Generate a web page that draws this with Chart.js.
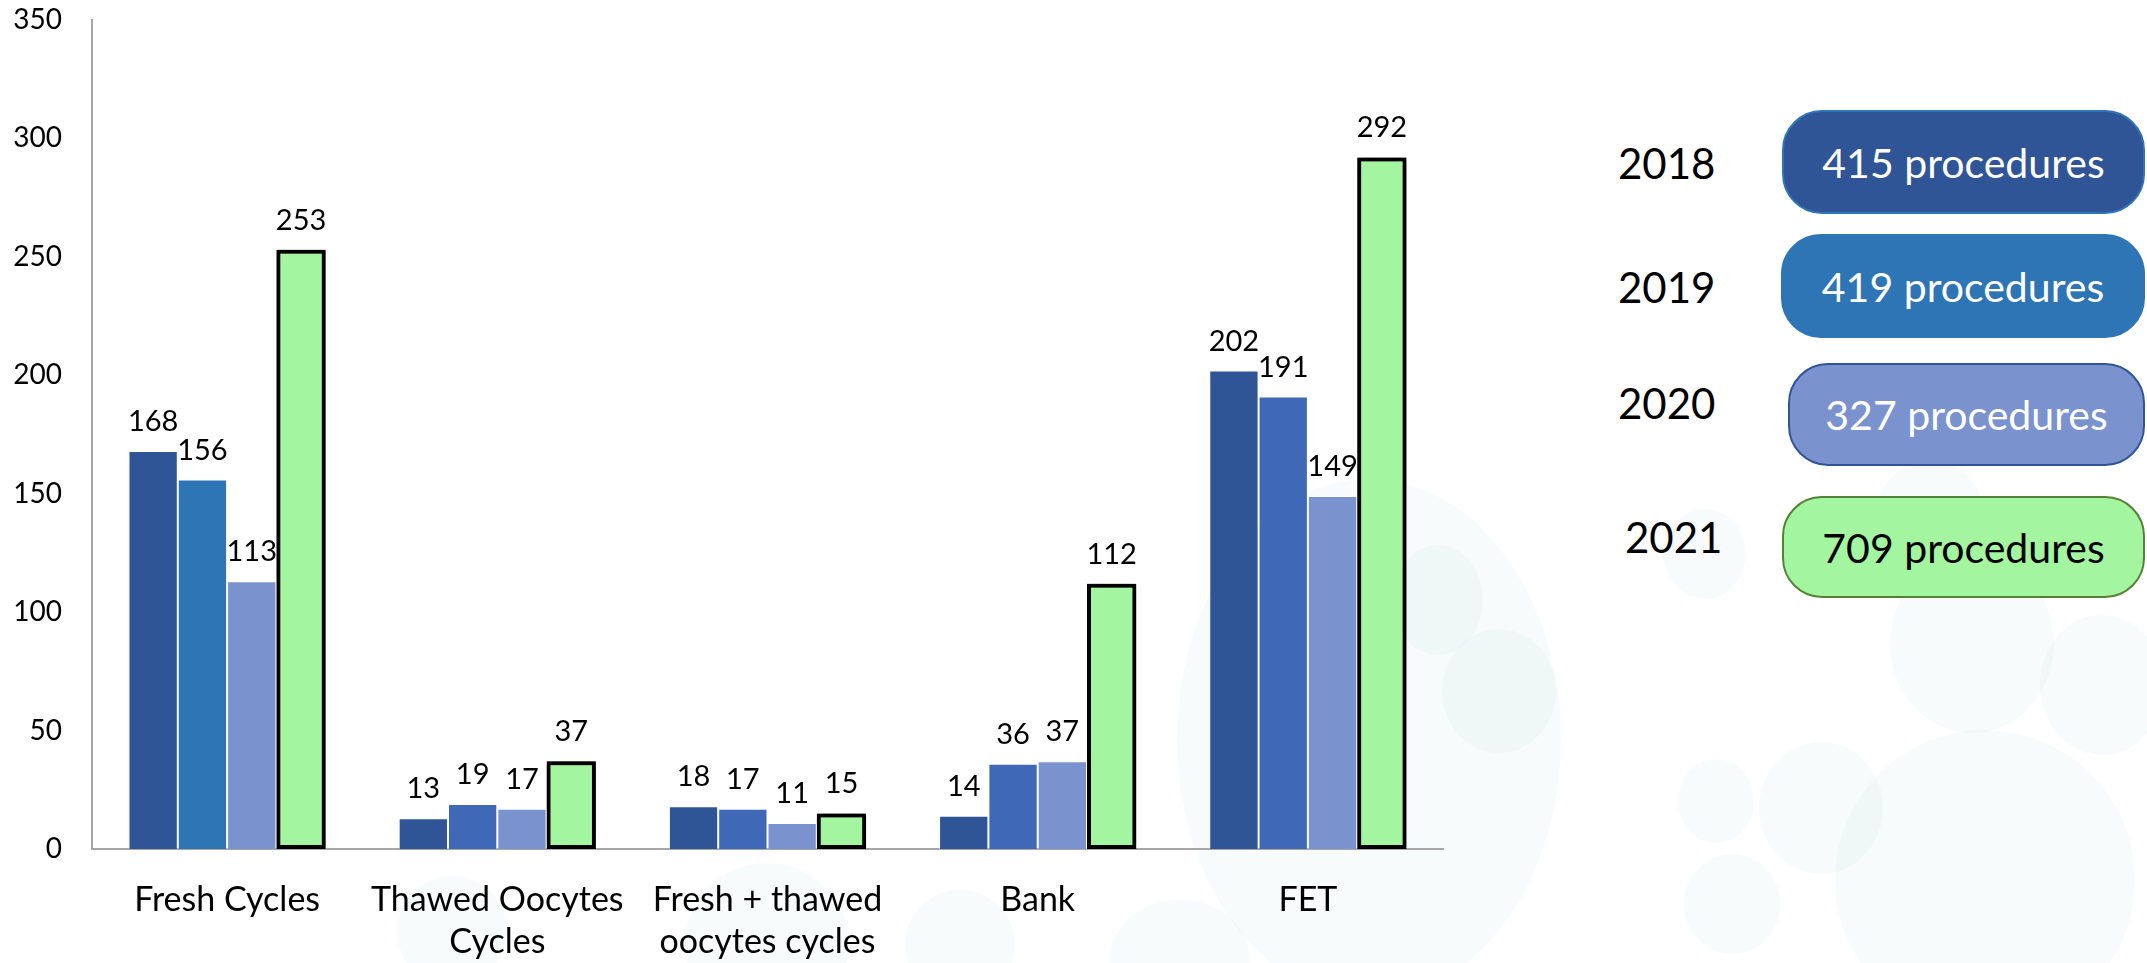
<!DOCTYPE html>
<html>
<head>
<meta charset="utf-8">
<title>Procedures per year</title>
<script src="https://cdn.jsdelivr.net/npm/chart.js@4.4.1/dist/chart.umd.min.js"></script>
<style>
  html, body { margin: 0; padding: 0; background: #fff; }
  #page { position: relative; width: 2147px; height: 963px; overflow: hidden; font-family: Lato, sans-serif; }
  .bubble { position: absolute; border-radius: 50%; background: rgba(200, 228, 224, 0.14); }
  #chartBox { position: absolute; left: 0; top: 0; width: 1460px; height: 963px; }
  .year { position: absolute; left: 1618px; font-size: 42px; color: #000; line-height: 1; transform: translateY(-50%); }
  .pill { position: absolute; right: 2px; border-radius: 40px; box-sizing: border-box;
          display: flex; align-items: center; justify-content: center; font-size: 41px; }
</style>
</head>
<body>
<div id="page">
  <div id="bubbles"></div>
  <div id="chartBox"><canvas id="procedures" width="1460" height="963"></canvas></div>
  <div id="legend"></div>
</div>
<script>
const categories = [['Fresh Cycles'], ['Thawed Oocytes', 'Cycles'], ['Fresh + thawed', 'oocytes cycles'], ['Bank'], ['FET']];
const years = ['2018', '2019', '2020', '2021'];
const values2018 = [168, 13, 18, 14, 202];
const values2019 = [156, 19, 17, 36, 191];
const values2020 = [113, 17, 11, 37, 149];
const values2021 = [253, 37, 15, 112, 292];
const yMax = 350;
const yStep = 50;

const series = [values2018, values2019, values2020, values2021];
const sum = (arr) => arr.reduce((a, b) => a + b, 0);

// faint background bubbles (decoration from the slide)
const bubbles = [
  [1369, 739, 192, 260], [1499, 691, 57, 62], [1705, 554, 41, 45], [1716, 801, 38, 42],
  [1821, 808, 62, 66], [1732, 904, 48, 50], [1972, 643, 82, 90], [1985, 880, 150, 150],
  [2102, 685, 62, 70], [2080, 548, 40, 45], [1438, 600, 45, 55], [1930, 520, 55, 60],
  [452, 931, 55, 55], [767, 945, 82, 82], [960, 945, 55, 55], [1180, 960, 70, 60]
];
document.getElementById('bubbles').innerHTML = bubbles.map(([cx, cy, rx, ry]) =>
  `<div class="bubble" style="left:${cx - rx}px;top:${cy - ry}px;width:${rx * 2}px;height:${ry * 2}px"></div>`
).join('');

// year boxes on the right
const legendStyle = [
  { y: 163, top: 110, left: 1782, h: 104, bg: '#2F5597', border: '2px solid #2E75B6', color: '#fff' },
  { y: 287, top: 234, left: 1781, h: 104, bg: '#2E75B6', border: '2px solid #2E75B6', color: '#fff' },
  { y: 403, top: 363, left: 1788, h: 103, bg: '#7A92CE', border: '2px solid #2F5597', color: '#fff' },
  { y: 537, top: 496, left: 1782, h: 102, bg: '#A3F5A0', border: '2px solid #548235', color: '#000' }
];
document.getElementById('legend').innerHTML = years.map((yr, i) => {
  const s = legendStyle[i];
  return `<div class="year" style="top:${s.y}px;${i === 3 ? 'left:1625px;' : ''}">${yr}</div>` +
    `<div class="pill" style="top:${s.top}px;left:${s.left}px;height:${s.h}px;background:${s.bg};border:${s.border};color:${s.color}">${sum(series[i])} procedures</div>`;
}).join('');

const glow = {
  id: 'glow',
  beforeDatasetDraw(chart, args) {
    if (args.index !== 3) return;
    chart.ctx.save();
    chart.ctx.shadowColor = 'rgba(0,0,0,0.9)';
    chart.ctx.shadowBlur = 8;
  },
  afterDatasetDraw(chart, args) {
    if (args.index !== 3) return;
    chart.ctx.restore();
  }
};

const valueLabels = {
  id: 'valueLabels',
  afterDatasetsDraw(chart) {
    const ctx = chart.ctx;
    ctx.save();
    ctx.font = '29px Lato';
    ctx.fillStyle = '#000';
    ctx.textAlign = 'center';
    ctx.textBaseline = 'alphabetic';
    chart.data.datasets.forEach((ds, i) => {
      chart.getDatasetMeta(i).data.forEach((bar, j) => {
        ctx.fillText(String(ds.data[j]), bar.x, bar.y - 20);
      });
    });
    ctx.restore();
  }
};

function draw() {
  new Chart(document.getElementById('procedures'), {
    type: 'bar',
    data: {
      labels: categories,
      datasets: [
        { label: years[0], data: values2018, backgroundColor: '#2F5597',
          borderColor: 'rgba(255,255,255,0.35)', borderWidth: 1 },
        { label: years[1], data: values2019,
          backgroundColor: ['#2E75B6', '#3F69B6', '#3F69B6', '#3F69B6', '#3F69B6'],
          borderColor: 'rgba(255,255,255,0.35)', borderWidth: 1 },
        { label: years[2], data: values2020, backgroundColor: '#7A92CE',
          borderColor: 'rgba(255,255,255,0.35)', borderWidth: 1 },
        { label: years[3], data: values2021, backgroundColor: '#A3F5A0',
          borderColor: '#000', borderWidth: 4, borderSkipped: false }
      ]
    },
    options: {
      responsive: false,
      animation: false,
      layout: { padding: { top: 20, right: 17, left: 0, bottom: 0 } },
      datasets: { bar: { categoryPercentage: 0.73, barPercentage: 1 } },
      plugins: { legend: { display: false }, tooltip: { enabled: false } },
      scales: {
        x: {
          grid: { display: false, drawTicks: false },
          border: { display: true, color: '#A6A6A6', width: 2 },
          ticks: { color: '#000', font: { family: 'Lato', size: 34, lineHeight: '42px' },
                   padding: 30, autoSkip: false, maxRotation: 0 },
          afterFit(scale) { scale.height = 114; scale.paddingLeft = 0; scale.paddingRight = 0; }
        },
        y: {
          min: 0, max: yMax,
          grid: { display: false, drawTicks: false },
          border: { display: true, color: '#A6A6A6', width: 2 },
          ticks: { stepSize: yStep, color: '#000', font: { family: 'Lato', size: 28 }, padding: 30 },
          afterFit(scale) { scale.width = 92; scale.paddingTop = 0; scale.paddingBottom = 0; }
        }
      }
    },
    plugins: [glow, valueLabels]
  });
}

document.fonts.load('28px Lato').then(draw, draw);
</script>
</body>
</html>
